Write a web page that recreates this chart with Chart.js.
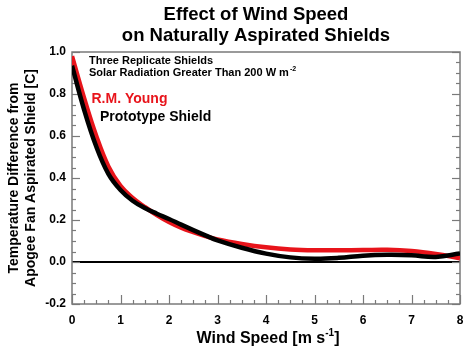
<!DOCTYPE html>
<html>
<head>
<meta charset="utf-8">
<script src="https://cdn.jsdelivr.net/npm/chart.js@4/dist/chart.umd.min.js"></script>
<style>
html,body{margin:0;padding:0;background:#fff;}
#wrap{width:474px;height:351px;}
</style>
</head>
<body>
<div id="wrap"><canvas id="c" width="474" height="351"></canvas></div>
<script>
const windSpeed = [0, 0.25, 0.5, 0.75, 1.0, 1.25, 1.5, 1.75, 2.0, 2.25, 2.5, 2.75, 3.0, 3.5, 4.0, 4.5, 5.0, 5.5, 6.0, 6.5, 7.0, 7.5, 8.0];
const rmYoung   = [0.98, 0.78, 0.60, 0.455, 0.362, 0.305, 0.262, 0.223, 0.19, 0.163, 0.142, 0.123, 0.107, 0.086, 0.07, 0.06, 0.056, 0.056, 0.057, 0.058, 0.052, 0.038, 0.018];
const prototype = [0.935, 0.725, 0.55, 0.42, 0.343, 0.292, 0.257, 0.23, 0.205, 0.178, 0.152, 0.127, 0.103, 0.068, 0.04, 0.022, 0.016, 0.02, 0.03, 0.034, 0.032, 0.024, 0.04];
const xTicks = [0, 1, 2, 3, 4, 5, 6, 7, 8];
const yTicks = [-0.2, 0.0, 0.2, 0.4, 0.6, 0.8, 1.0];
const titleLines = ["Effect of Wind Speed", "on Naturally Aspirated Shields"];
const yTitleLines = ["Temperature Difference from", "Apogee Fan Aspirated Shield [C]"];
const noteLines = ["Three Replicate Shields", "Solar Radiation Greater Than 200 W m"];
const seriesNames = ["R.M. Young", "Prototype Shield"];

const FF = "'Liberation Sans', Arial, Helvetica, sans-serif";
const FRAME = '#7a7a7a';

const pts = (ys) => windSpeed.map((x, i) => ({x: x, y: ys[i]}));

const decor = {
  id: 'decor',
  beforeDatasetsDraw(chart) {
    const ctx = chart.ctx, a = chart.chartArea;
    const xs = chart.scales.x, ys = chart.scales.y;
    ctx.save();
    ctx.strokeStyle = '#000'; ctx.lineWidth = 2;
    const y0 = ys.getPixelForValue(0);
    ctx.beginPath(); ctx.moveTo(a.left, y0); ctx.lineTo(a.right, y0); ctx.stroke();
    ctx.strokeStyle = FRAME; ctx.lineWidth = 1.2;
    for (let v = xs.min; v <= xs.max + 1e-9; v += 0.25) {
      const major = Math.abs(v - Math.round(v)) < 1e-6;
      const px = Math.round(xs.getPixelForValue(v)) + 0.5;
      const L = major ? 9 : 4;
      ctx.beginPath(); ctx.moveTo(px, a.bottom); ctx.lineTo(px, a.bottom - L); ctx.stroke();
    }
    for (let k = 0; k <= 24; k++) {
      const v = ys.min + k * 0.05;
      const major = k % 4 === 0;
      const py = Math.round(ys.getPixelForValue(v)) + 0.5;
      const L = major ? 8 : 4;
      ctx.beginPath(); ctx.moveTo(a.left, py); ctx.lineTo(a.left + L, py); ctx.stroke();
      ctx.beginPath(); ctx.moveTo(a.right, py); ctx.lineTo(a.right - L, py); ctx.stroke();
    }
    ctx.lineWidth = 1.5;
    ctx.strokeRect(a.left, a.top, a.right - a.left, a.bottom - a.top);
    ctx.restore();
  },
  afterDraw(chart) {
    const ctx = chart.ctx;
    ctx.save();
    ctx.fillStyle = '#000';
    ctx.textBaseline = 'alphabetic';
    ctx.font = 'bold 18.5px ' + FF;
    ctx.textAlign = 'center';
    ctx.fillText(titleLines[0], 256, 19.5);
    ctx.fillText(titleLines[1], 256, 40.5);
    ctx.font = 'bold 14px ' + FF;
    ctx.save();
    ctx.translate(0, 178);
    ctx.rotate(-Math.PI / 2);
    ctx.textAlign = 'center';
    ctx.fillText(yTitleLines[0], 0, 18);
    ctx.fillText(yTitleLines[1], 0, 35);
    ctx.restore();
    ctx.textAlign = 'left';
    const xt1 = "Wind Speed [m s", sup = "-1", xt2 = "]";
    ctx.font = 'bold 16px ' + FF;
    const w1 = ctx.measureText(xt1).width, w3 = ctx.measureText(xt2).width;
    ctx.font = 'bold 10px ' + FF;
    const w2 = ctx.measureText(sup).width;
    let sx = 268 - (w1 + w2 + w3) / 2;
    ctx.font = 'bold 16px ' + FF;
    ctx.fillText(xt1, sx, 343);
    ctx.font = 'bold 10px ' + FF;
    ctx.fillText(sup, sx + w1, 336);
    ctx.font = 'bold 16px ' + FF;
    ctx.fillText(xt2, sx + w1 + w2, 343);
    ctx.font = 'bold 11px ' + FF;
    ctx.fillText(noteLines[0], 89, 63.5);
    ctx.fillText(noteLines[1], 89, 76);
    const wn = ctx.measureText(noteLines[1]).width;
    ctx.font = 'bold 7px ' + FF;
    ctx.fillText("-2", 89 + wn + 1, 71);
    ctx.font = 'bold 14px ' + FF;
    ctx.fillStyle = '#e8141b';
    ctx.fillText(seriesNames[0], 91.5, 102.5);
    ctx.fillStyle = '#000';
    ctx.fillText(seriesNames[1], 100, 121);
    ctx.restore();
  }
};

new Chart(document.getElementById('c'), {
  type: 'line',
  data: {
    datasets: [
      { label: seriesNames[1], data: pts(prototype), borderColor: '#000', borderWidth: 4.5, pointRadius: 0, tension: 0.4, fill: false },
      { label: seriesNames[0], data: pts(rmYoung), borderColor: '#e8141b', borderWidth: 4.5, pointRadius: 0, tension: 0.4, fill: false }
    ]
  },
  options: {
    responsive: false,
    animation: false,
    events: [],
    layout: { padding: { top: 52, right: 14, left: 0, bottom: 0 } },
    plugins: { legend: { display: false }, title: { display: false }, tooltip: { enabled: false } },
    scales: {
      x: {
        type: 'linear', min: 0, max: 8,
        grid: { display: false, drawTicks: false },
        border: { display: false },
        afterFit(s) { s.height = 47; },
        afterBuildTicks(s) { s.ticks = xTicks.map(v => ({ value: v })); },
        ticks: { padding: 9, color: '#000', font: { family: FF, size: 12, weight: 'bold' }, maxRotation: 0, autoSkip: false, callback: v => String(v) }
      },
      y: {
        type: 'linear', min: -0.2, max: 1.0,
        grid: { display: false, drawTicks: false },
        border: { display: false },
        afterFit(s) { s.width = 72; },
        afterBuildTicks(s) { s.ticks = yTicks.map(v => ({ value: v })); },
        ticks: { padding: 6, color: '#000', font: { family: FF, size: 12, weight: 'bold' }, autoSkip: false, callback: v => Number(v).toFixed(1) }
      }
    }
  },
  plugins: [decor]
});
</script>
</body>
</html>
